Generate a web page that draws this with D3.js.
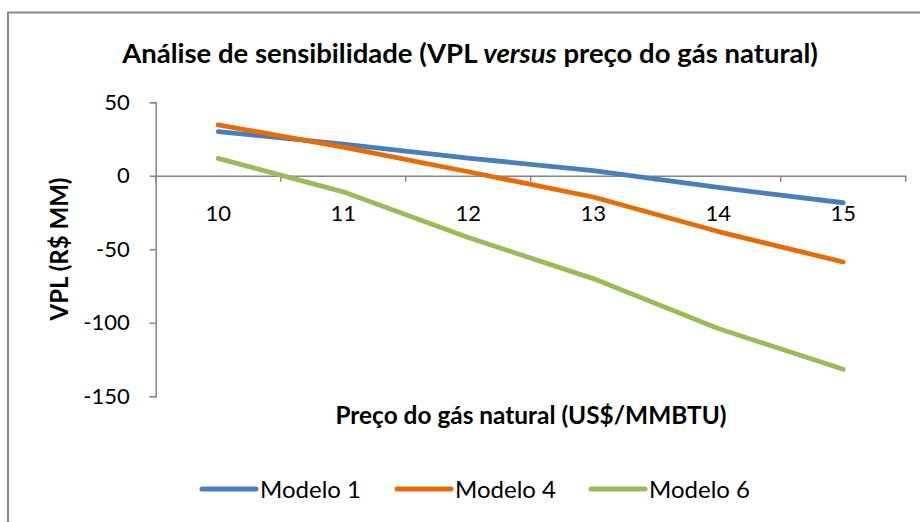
<!DOCTYPE html>
<html>
<head>
<meta charset="utf-8">
<script src="https://cdn.jsdelivr.net/npm/d3@7"></script>
<style>
  body { margin:0; background:#fff; }
  svg text { font-family: Lato, "Open Sans", sans-serif; fill:#000; }
</style>
</head>
<body>
<svg class="chart"></svg>
<script>
// categorias do eixo x (preço do gás)
var precos = ['10','11','12','13','14','15'];
// VPL por modelo (R$ MM)
var modelo1 = [30, 21.5, 12, 3.5, -8, -18.4];
var modelo4 = [34.5, 19.5, 2.7, -14.5, -38, -58.7];
var modelo6 = [11.8, -11, -42, -70, -104, -131.7];
var yTicks = [50, 0, -50, -100, -150];

var series = [
  {nome:'Modelo 1', valores:modelo1, cor:'#4a7ebb'},
  {nome:'Modelo 4', valores:modelo4, cor:'#e46c0a'},
  {nome:'Modelo 6', valores:modelo6, cor:'#9bbb59'}
];

var W = 920, H = 522;
var canvas = d3.select('.chart').attr('width', W).attr('height', H);

/* moldura do gráfico (sai pela direita/baixo como no original) */
canvas.append('rect')
  .attr('x', 8).attr('y', 12.5)
  .attr('width', 940).attr('height', 530)
  .attr('fill', '#fff').attr('stroke', '#898989').attr('stroke-width', 2);

var x = d3.scaleBand().domain(precos).range([155.7, 905.7]);
var y = d3.scaleLinear().domain([-150, 50]).range([396.2, 102.2]);
var cx = d => x(d) + x.bandwidth()/2;

// eixo y (hífen comum, como no Excel)
var yAx = canvas.append('g').attr('transform', 'translate(155.7,0)')
  .call(d3.axisLeft(y).tickValues(yTicks).tickSize(6).tickPadding(20).tickFormat(d => String(d)));
yAx.select('.domain').attr('stroke', '#868686').attr('stroke-width', 1.5);
yAx.selectAll('.tick line').attr('stroke', '#868686').attr('stroke-width', 1.5);
yAx.selectAll('.tick text').style('font-size', '22px').style('font-family', 'Lato').attr('fill', '#000');

// eixo x no zero, rótulos abaixo
var xAx = canvas.append('g').attr('transform', 'translate(0,' + y(0) + ')')
  .call(d3.axisBottom(x).tickSize(0).tickPadding(30));
xAx.select('.domain').attr('stroke', '#868686').attr('stroke-width', 1.5);
xAx.selectAll('.tick text').style('font-size', '22px').style('font-family', 'Lato').attr('fill', '#000');
// marcas entre categorias
xAx.selectAll('.sep').data(precos.concat(['fim']))
  .enter().append('line')
    .attr('x1', (d,i) => i < precos.length ? x(d) : x.range()[1])
    .attr('x2', (d,i) => i < precos.length ? x(d) : x.range()[1])
    .attr('y1', 0).attr('y2', 6)
    .attr('stroke', '#868686').attr('stroke-width', 1.5);

// linhas
var line = d3.line().x((d,i) => cx(precos[i])).y(d => y(d));
canvas.selectAll('.serie').data(series).enter()
  .append('path')
    .classed('serie', true)
    .attr('d', d => line(d.valores))
    .attr('fill', 'none')
    .attr('stroke', d => d.cor)
    .attr('stroke-width', 4.8)
    .attr('stroke-linecap', 'round')
    .attr('stroke-linejoin', 'round');

// títulos
var titulo = canvas.append('text').attr('x', 470).attr('y', 63)
  .attr('text-anchor', 'middle').style('font-size', '27.5px').style('font-weight', 'bold');
titulo.append('tspan').text('Análise de sensibilidade (VPL ');
titulo.append('tspan').style('font-style', 'italic').text('versus');
titulo.append('tspan').text(' preço do gás natural)');

canvas.append('text').attr('x', 531).attr('y', 424)
  .attr('text-anchor', 'middle').style('font-size', '24.4px').style('font-weight', 'bold')
  .text('Preço do gás natural (US$/MMBTU)');

canvas.append('text').attr('transform', 'translate(68,249) rotate(-90)')
  .attr('text-anchor', 'middle').style('font-size', '24px').style('font-weight', 'bold')
  .text('VPL (R$ MM)');

// legenda
var legX = [200, 395, 589];
var leg = canvas.selectAll('.leg').data(series).enter()
  .append('g').classed('leg', true)
  .attr('transform', (d,i) => 'translate(' + legX[i] + ',489)');
leg.append('line').attr('x1', 2).attr('x2', 56).attr('y1', 0).attr('y2', 0)
  .attr('stroke', d => d.cor).attr('stroke-width', 5).attr('stroke-linecap', 'round');
leg.append('text').attr('x', 60).attr('y', 8.5).style('font-size', '24px').text(d => d.nome);
</script>
</body>
</html>
